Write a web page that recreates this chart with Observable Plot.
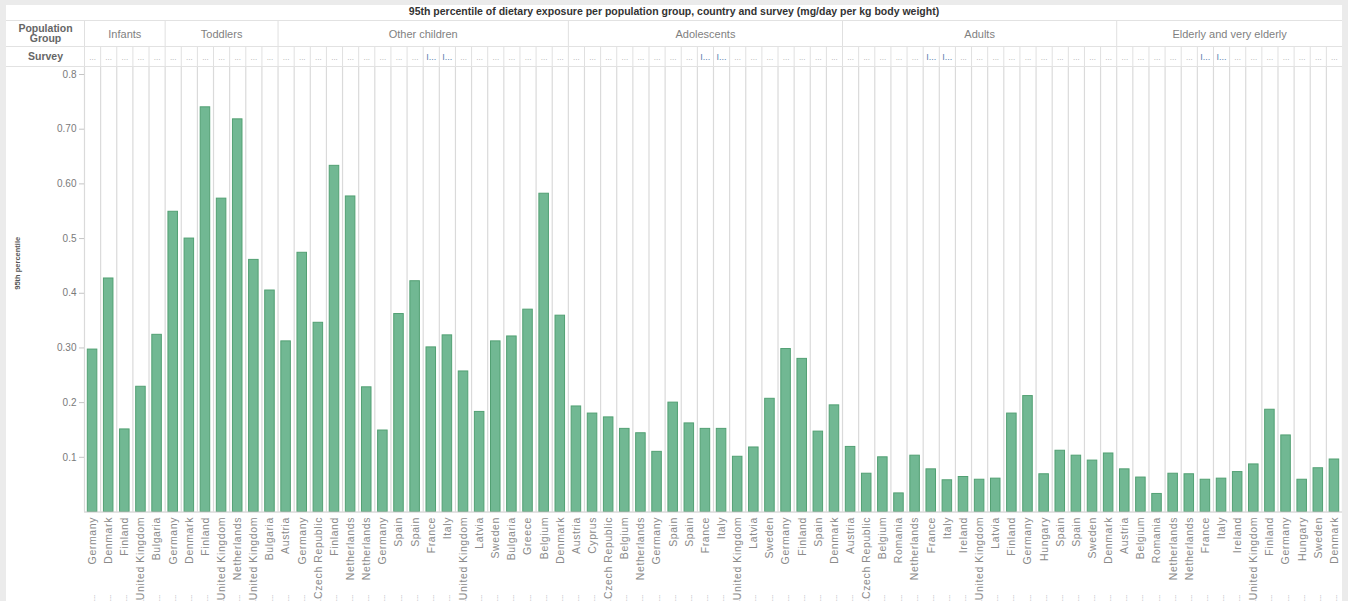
<!DOCTYPE html>
<html>
<head>
<meta charset="utf-8">
<script src="https://cdn.jsdelivr.net/npm/d3@7"></script>
<script src="https://cdn.jsdelivr.net/npm/@observablehq/plot@0.6"></script>
<style>
  html, body { margin: 0; padding: 0; background: #ebebeb; }
  #wrap { position: absolute; left: 6px; top: 5px; width: 1336px; height: 596px; background: #fff; overflow: hidden; }
  #title { height: 15px; line-height: 15px; border-bottom: 1px solid #e2e2e2; text-align: center;
           font: bold 10.5px "Liberation Sans", Arial, sans-serif; color: #333; }
  #row1 { height: 25px; border-bottom: 1px solid #e2e2e2; }
  #row2 { height: 19px; border-bottom: 1px solid #e2e2e2; }
  #row1 svg, #row2 svg, #main svg { display: block; }
</style>
</head>
<body>
<div id="wrap">
  <div id="title">95th percentile of dietary exposure per population group, country and survey (mg/day per kg body weight)</div>
  <div id="row1"></div>
  <div id="row2"></div>
  <div id="main"></div>
</div>
<script>
// ---- Data ----
const groups = ["Infants", "Toddlers", "Other children", "Adolescents", "Adults", "Elderly and very elderly"];

const infantsCountries = ["Germany", "Denmark", "Finland", "United Kingdom", "Bulgaria"];
const infantsP95 = [0.297, 0.427, 0.151, 0.229, 0.324];

const toddlersCountries = ["Germany", "Denmark", "Finland", "United Kingdom", "Netherlands", "United Kingdom", "Bulgaria"];
const toddlersP95 = [0.549, 0.500, 0.740, 0.573, 0.718, 0.461, 0.405];

const otherChildrenCountries = ["Austria", "Germany", "Czech Republic", "Finland", "Netherlands", "Netherlands", "Germany", "Spain", "Spain", "France", "Italy", "United Kingdom", "Latvia", "Sweden", "Bulgaria", "Greece", "Belgium", "Denmark"];
const otherChildrenP95 = [0.312, 0.474, 0.346, 0.633, 0.577, 0.228, 0.149, 0.362, 0.422, 0.301, 0.323, 0.257, 0.183, 0.312, 0.321, 0.370, 0.582, 0.359];

const adolescentsCountries = ["Austria", "Cyprus", "Czech Republic", "Belgium", "Netherlands", "Germany", "Spain", "Spain", "France", "Italy", "United Kingdom", "Latvia", "Sweden", "Germany", "Finland", "Spain", "Denmark"];
const adolescentsP95 = [0.193, 0.180, 0.173, 0.152, 0.144, 0.110, 0.200, 0.162, 0.152, 0.152, 0.101, 0.118, 0.207, 0.298, 0.280, 0.147, 0.195];

const adultsCountries = ["Austria", "Czech Republic", "Belgium", "Romania", "Netherlands", "France", "Italy", "Ireland", "United Kingdom", "Latvia", "Finland", "Germany", "Hungary", "Spain", "Spain", "Sweden", "Denmark"];
const adultsP95 = [0.119, 0.070, 0.100, 0.034, 0.103, 0.078, 0.058, 0.064, 0.059, 0.061, 0.180, 0.212, 0.069, 0.112, 0.103, 0.094, 0.107];

const elderlyCountries = ["Austria", "Belgium", "Romania", "Netherlands", "Netherlands", "France", "Italy", "Ireland", "United Kingdom", "Finland", "Germany", "Hungary", "Sweden", "Denmark"];
const elderlyP95 = [0.078, 0.063, 0.033, 0.070, 0.069, 0.059, 0.061, 0.073, 0.087, 0.187, 0.140, 0.059, 0.080, 0.096];

// survey names shown truncated in the header; those starting with "I" show "I..."
const surveyInitialCountries = ["France", "Italy"];

const yTicks = [0.1, 0.2, 0.3, 0.4, 0.5, 0.6, 0.7, 0.8];
const yTickLabels = ["0.1", "0.2", "0.30", "0.4", "0.5", "0.60", "0.70", "0.8"];
const yLabel = "95th percentile";

// ---- Build table ----
const groupCountries = [infantsCountries, toddlersCountries, otherChildrenCountries, adolescentsCountries, adultsCountries, elderlyCountries];
const groupValues = [infantsP95, toddlersP95, otherChildrenP95, adolescentsP95, adultsP95, elderlyP95];

const rows = [];
const groupSpans = [];
groups.forEach((g, gi) => {
  const start = rows.length;
  groupCountries[gi].forEach((c, k) => {
    rows.push({i: rows.length, group: g, country: c, value: groupValues[gi][k],
               survey: surveyInitialCountries.includes(c) ? "I..." : "..."});
  });
  groupSpans.push({group: g, start, end: rows.length});
});
const n = rows.length;
const boundaries = d3.range(0, n + 1);
const groupBounds = [0, ...groupSpans.map(s => s.end)];

const W = 1336, ML = 78, MR = 0;
const font = "Liberation Sans, Arial, sans-serif";
const xScale = {type: "linear", domain: [0, n], axis: null};

// ---- Header row 1 : population groups ----
const row1 = Plot.plot({
  width: W, height: 25, marginLeft: ML, marginRight: MR, marginTop: 0, marginBottom: 0,
  style: {fontFamily: font, background: "transparent"},
  x: xScale,
  marks: [
    Plot.ruleX(groupBounds, {x: d => d, stroke: "#e0e0e0"}),
    Plot.text(groupSpans, {x: d => (d.start + d.end) / 2, text: "group", frameAnchor: "middle", fill: "#7f7f7f", fontSize: 11}),
    Plot.text(["Population\nGroup"], {frameAnchor: "left", dx: -39, textAnchor: "middle", fontWeight: "bold", fill: "#666", fontSize: 10.5, lineHeight: 0.95})
  ]
});
document.getElementById("row1").appendChild(row1);

// ---- Header row 2 : surveys ----
const row2 = Plot.plot({
  width: W, height: 19, marginLeft: ML, marginRight: MR, marginTop: 0, marginBottom: 0,
  style: {fontFamily: font, background: "transparent"},
  x: xScale,
  marks: [
    Plot.ruleX(boundaries, {x: d => d, stroke: "#e0e0e0"}),
    Plot.text(rows.filter(d => d.survey === "..."), {x: d => d.i + 0.5, text: "survey", frameAnchor: "middle", fill: "#aaa", fontSize: 8}),
    Plot.text(rows.filter(d => d.survey !== "..."), {x: d => d.i, text: "survey", frameAnchor: "middle", textAnchor: "start", dx: 3, fill: "#5a7fb0", fontSize: 9}),
    Plot.text(["Survey"], {frameAnchor: "left", dx: -39, textAnchor: "middle", fontWeight: "bold", fill: "#666", fontSize: 10.5})
  ]
});
document.getElementById("row2").appendChild(row2);

// ---- Main chart ----
const main = Plot.plot({
  width: W, height: 534, marginLeft: ML, marginRight: MR, marginTop: 0, marginBottom: 89.5,
  style: {fontFamily: font, background: "transparent"},
  x: xScale,
  y: {domain: [0, 0.8128], axis: null},
  marks: [
    Plot.ruleX(boundaries, {x: d => d, stroke: "#dadada", strokeWidth: 1.2}),
    Plot.rectY(rows, {x1: d => d.i, x2: d => d.i + 1, y: "value", insetLeft: 3.3, insetRight: 3.3,
                      fill: "#71b893", stroke: "#52a073", strokeWidth: 1}),
    Plot.ruleY([0], {stroke: "#c8c8c8"}),
    Plot.axisY({ticks: yTicks, tickFormat: (d, k) => yTickLabels[k], tickSize: 5, tickPadding: 3,
                stroke: "#c4c4c4", fill: "#7a7a7a", fontSize: 10, label: null}),
    Plot.text([yLabel], {frameAnchor: "left", dx: -67, rotate: -90, fontWeight: "bold", fill: "#555", fontSize: 7.5}),
    Plot.text(rows, {x: d => d.i + 0.5, y: 0, text: "country", rotate: -90, textAnchor: "end", dy: 5,
                     fill: "#8a8a8a", fontSize: 10.5}),
    Plot.text(rows, {x: d => d.i + 0.5, y: 0, text: d => "...", rotate: -90, dy: 86, fill: "#999", fontSize: 8})
  ]
});
// widen the tracking of the country labels, as in the original
const countrySet = new Set(rows.map(d => d.country));
d3.select(main).selectAll("text")
  .filter(function () { return countrySet.has(this.textContent); })
  .style("letter-spacing", "0.6px");
document.getElementById("main").appendChild(main);
</script>
</body>
</html>
